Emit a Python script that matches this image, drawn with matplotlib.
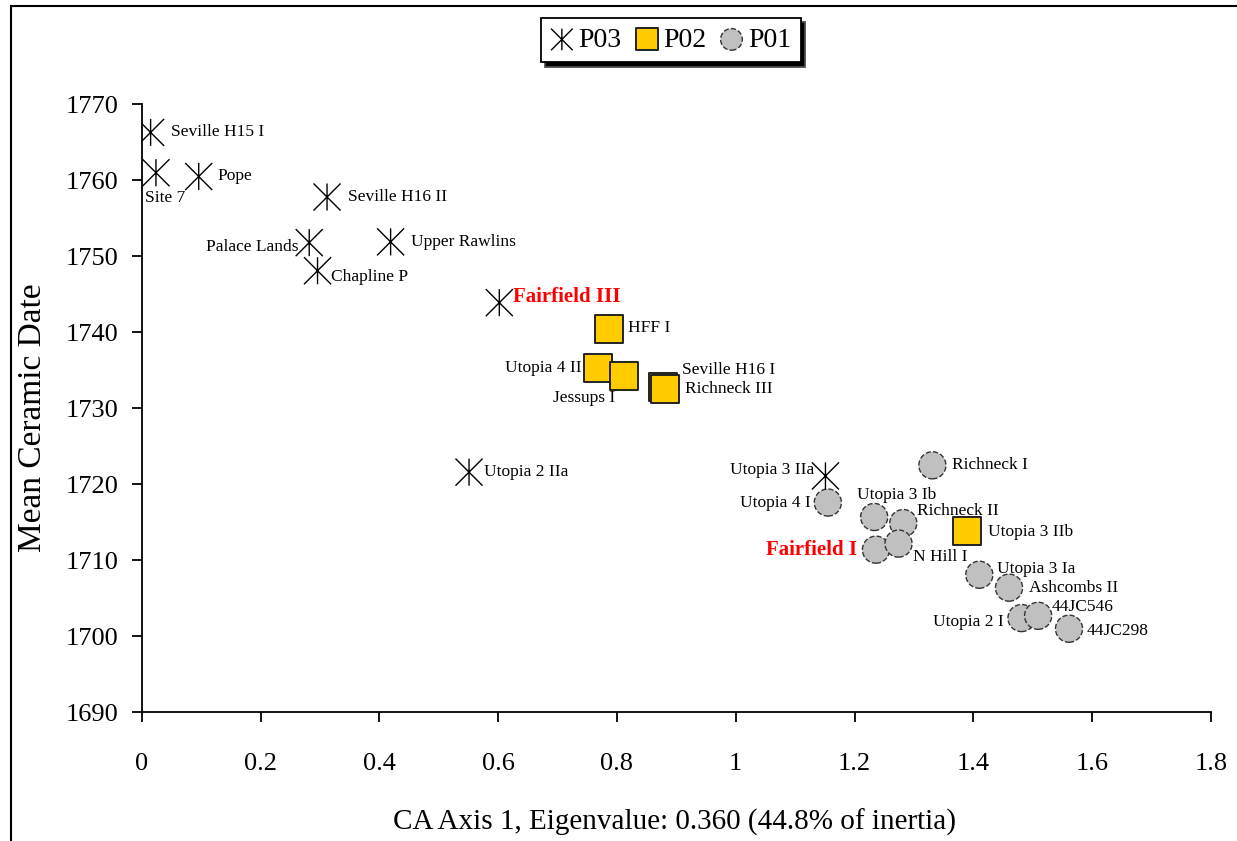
import matplotlib
matplotlib.use("Agg")
import matplotlib.pyplot as plt
from matplotlib.path import Path
from matplotlib.lines import Line2D

plt.rcParams['font.family'] = ['Liberation Serif', 'DejaVu Serif']

# P03 sites (star markers)
p03_names = ['Seville H15 I', 'Site 7', 'Pope', 'Seville H16 II', 'Palace Lands',
             'Upper Rawlins', 'Chapline P', 'Fairfield III', 'Utopia 2 IIa', 'Utopia 3 IIa']
p03_x = [0.015, 0.024, 0.096, 0.312, 0.282, 0.419, 0.296, 0.602, 0.551, 1.151]
p03_y = [1766.3, 1761.0, 1760.5, 1757.8, 1751.8, 1751.9, 1748.1, 1743.9, 1721.6, 1721.1]

# P02 sites (squares)
p02_names = ['HFF I', 'Utopia 4 II', 'Jessups I', 'Seville H16 I', 'Richneck III', 'Utopia 3 IIb']
p02_x = [0.786, 0.768, 0.812, 0.877, 0.881, 1.389]
p02_y = [1740.5, 1735.3, 1734.2, 1732.8, 1732.5, 1713.9]

# P01 sites (circles)
p01_names = ['Richneck I', 'Utopia 4 I', 'Utopia 3 Ib', 'Richneck II', 'Fairfield I', 'N Hill I',
             'Utopia 3 Ia', 'Ashcombs II', 'Utopia 2 I', '44JC546', '44JC298']
p01_x = [1.331, 1.155, 1.233, 1.282, 1.236, 1.274, 1.410, 1.460, 1.481, 1.509, 1.561]
p01_y = [1722.5, 1717.6, 1715.7, 1714.9, 1711.4, 1712.2, 1708.1, 1706.4, 1702.4, 1702.7, 1701.0]

highlight = ['Fairfield III', 'Fairfield I']

# label placement: (dx, dy) in pixels, horizontal alignment
label_pos = {
    'Seville H15 I': (20, 0, 'left'), 'Site 7': (9, -25, 'center'), 'Pope': (19, 0, 'left'),
    'Seville H16 II': (21, 0, 'left'), 'Palace Lands': (-11, -4, 'right'),
    'Upper Rawlins': (20, 0, 'left'), 'Chapline P': (13, -6, 'left'),
    'Fairfield III': (14, 6, 'left'), 'Utopia 2 IIa': (15, 0, 'left'),
    'Utopia 3 IIa': (-11, 6, 'right'),
    'HFF I': (19, 0, 'left'), 'Utopia 4 II': (-16, 0, 'right'), 'Jessups I': (-9, -22, 'right'),
    'Seville H16 I': (19, 17, 'left'), 'Richneck III': (20, 0, 'left'),
    'Utopia 3 IIb': (21, -1, 'left'),
    'Richneck I': (20, 0, 'left'), 'Utopia 4 I': (-17, 0, 'right'), 'Utopia 3 Ib': (-17, 22, 'left'),
    'Richneck II': (14, 12, 'left'), 'Fairfield I': (-19, 0, 'right'), 'N Hill I': (14, -13, 'left'),
    'Utopia 3 Ia': (18, 6, 'left'), 'Ashcombs II': (20, 0, 'left'), 'Utopia 2 I': (-18, -4, 'right'),
    '44JC546': (13, 9, 'left'), '44JC298': (18, -2, 'left'),
}

star = Path([(0, -1), (0, 1), (-1, -1), (1, 1), (-1, 1), (1, -1)],
            [Path.MOVETO, Path.LINETO] * 3)

fig = plt.figure(figsize=(12.37, 8.41), dpi=100)
ax = fig.add_axes([141.7 / 1237, 1 - 712.3 / 841, (1211 - 141.7) / 1237, (712.3 - 104.3) / 841])

ms = 19.5
s01 = ax.scatter(p01_x, p01_y, s=ms ** 2, marker='o', facecolors='#c0c0c0',
                 edgecolors='#333333', linewidths=1.0, linestyles='--', zorder=3)
s02 = ax.scatter(p02_x, p02_y, s=ms ** 2, marker='s', facecolors='#ffcc00',
                 edgecolors='#222222', linewidths=1.4, zorder=4)
s03 = ax.scatter(p03_x, p03_y, s=ms ** 2, marker=star, facecolors='none',
                 edgecolors='black', linewidths=1.0, zorder=5)

for names, xs, ys in [(p03_names, p03_x, p03_y), (p02_names, p02_x, p02_y), (p01_names, p01_x, p01_y)]:
    for n, x, y in zip(names, xs, ys):
        dx, dy, ha = label_pos[n]
        if n in highlight:
            kw = dict(color='red', fontweight='bold', fontsize=15)
        else:
            kw = dict(color='black', fontsize=12.5)
        ax.annotate(n, (x, y), xytext=(dx, dy), textcoords='offset pixels',
                    ha=ha, va='center', zorder=6, **kw)

ax.set_xlim(0, 1.8)
ax.set_ylim(1690, 1770)
ax.set_xticks([0, 0.2, 0.4, 0.6, 0.8, 1, 1.2, 1.4, 1.6, 1.8])
ax.set_xticklabels(['0', '0.2', '0.4', '0.6', '0.8', '1', '1.2', '1.4', '1.6', '1.8'])
ax.set_yticks(range(1690, 1771, 10))
ax.spines['top'].set_visible(False)
ax.spines['right'].set_visible(False)
for sp in ['left', 'bottom']:
    ax.spines[sp].set_linewidth(1.3)
ax.tick_params(axis='both', direction='out', length=7, width=1.3, labelsize=19)
ax.tick_params(axis='x', pad=22)
ax.tick_params(axis='y', pad=10)

fig.text(675 / 1237, 1 - 822 / 841, 'CA Axis 1, Eigenvalue: 0.360 (44.8% of inertia)',
         ha='center', va='center', fontsize=21)
fig.text(33 / 1237, 1 - 418 / 841, 'Mean Ceramic Date', rotation=90,
         ha='center', va='center', fontsize=24)

leg = fig.legend([s03, s02, s01], ['P03', 'P02', 'P01'], loc='center',
                 bbox_to_anchor=(671 / 1237, 1 - 40 / 841), ncol=3, fontsize=20,
                 frameon=True, fancybox=False, markerscale=0.8,
                 handlelength=0.8, handletextpad=0.2, columnspacing=0.5,
                 borderpad=0.35, shadow={'ox': 3, 'oy': -3, 'facecolor': 'black', 'alpha': 1})
leg.get_frame().set_edgecolor('black')
leg.get_frame().set_linewidth(1.3)

# outer frame lines (top and left edges of the chart area)
fig.add_artist(Line2D([10.5 / 1237, 1], [1 - 5.5 / 841, 1 - 5.5 / 841],
                      transform=fig.transFigure, color='black', lw=1.5))
fig.add_artist(Line2D([10.5 / 1237, 10.5 / 1237], [0, 1 - 5.5 / 841],
                      transform=fig.transFigure, color='black', lw=1.5))

fig.savefig('out.png', dpi=100)
